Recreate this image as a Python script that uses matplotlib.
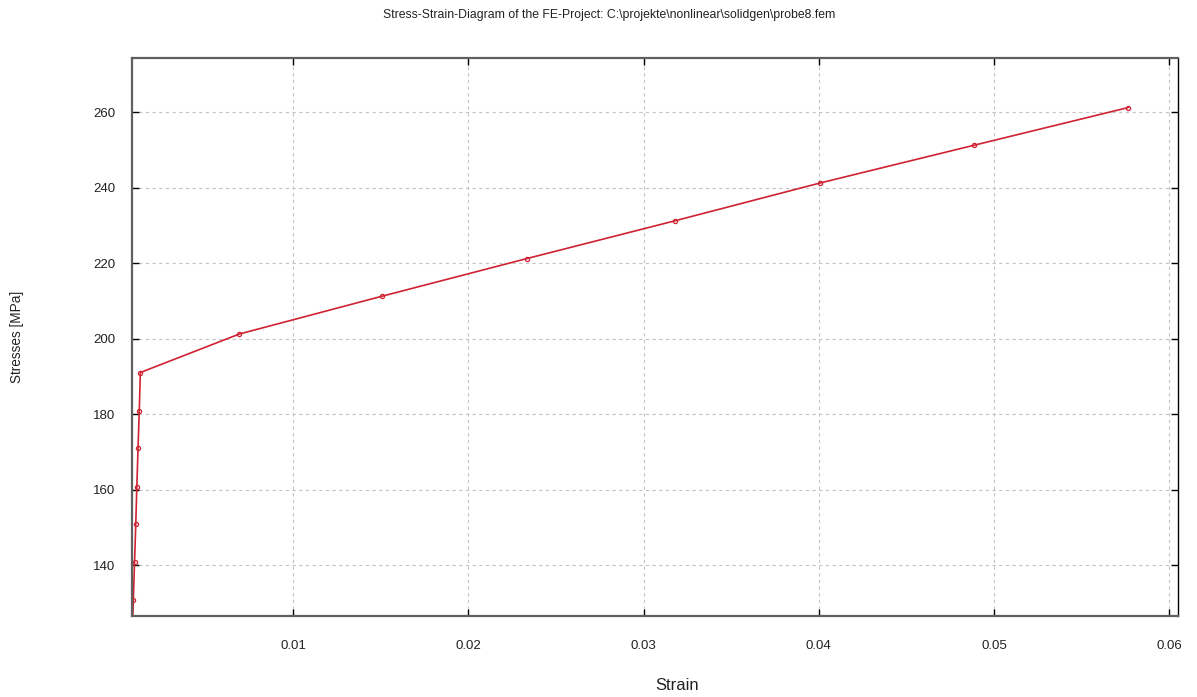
import matplotlib
matplotlib.use("Agg")
import matplotlib.pyplot as plt

plt.rcParams['font.family'] = ['Liberation Sans', 'DejaVu Sans']

# strain / stress pairs
strain = [0.0, 0.00087, 0.00094, 0.00101, 0.00107, 0.00114, 0.00121, 0.00127,
          0.00692, 0.01505, 0.02334, 0.03179, 0.04006, 0.04885, 0.05766]
stress = [0.0, 130.8, 140.9, 150.9, 160.9, 171.0, 181.0, 191.1,
          201.3, 211.3, 221.3, 231.3, 241.3, 251.3, 261.3]

xticks = [0.01, 0.02, 0.03, 0.04, 0.05, 0.06]
yticks = [140, 160, 180, 200, 220, 240, 260]

fig = plt.figure(figsize=(11.97, 6.97), dpi=100)
ax = fig.add_axes([0.1105, 0.1162, 0.8736, 0.8010])

ax.plot(strain, stress, color='#cf2232', lw=1.2, marker='o', ms=3,
        mfc='none', mec='#cf2232', mew=0.9, clip_on=True)

ax.set_xlim(0.00081, 0.0605)
ax.set_ylim(126.6, 274.5)
ax.set_xticks(xticks)
ax.set_xticklabels([f"{v:g}" for v in xticks])
ax.set_yticks(yticks)

ax.grid(True, color='#c4c4c4', linestyle=(0, (3, 3)), lw=0.8)
ax.tick_params(direction='in', length=5, width=1, color='black',
               top=True, right=True, labelsize=9.5, colors='#222222')
ax.tick_params(axis='x', pad=17)
ax.tick_params(axis='y', pad=12)
for side in ['left', 'bottom', 'top']:
    ax.spines[side].set_color('#606060')
    ax.spines[side].set_linewidth(1.6)
ax.spines['right'].set_color('black')
ax.spines['right'].set_linewidth(1.0)

fig.text(0.509, 0.979, r"Stress-Strain-Diagram of the FE-Project: C:\projekte\nonlinear\solidgen\probe8.fem",
         ha='center', va='center', fontsize=8.8, color='#222222')
fig.text(0.566, 0.017, "Strain", ha='center', va='center', fontsize=12, color='#222222')
fig.text(0.014, 0.516, "Stresses [MPa]", ha='center', va='center', rotation=90,
         fontsize=9.8, color='#222222')

fig.savefig("out.png", dpi=100)
